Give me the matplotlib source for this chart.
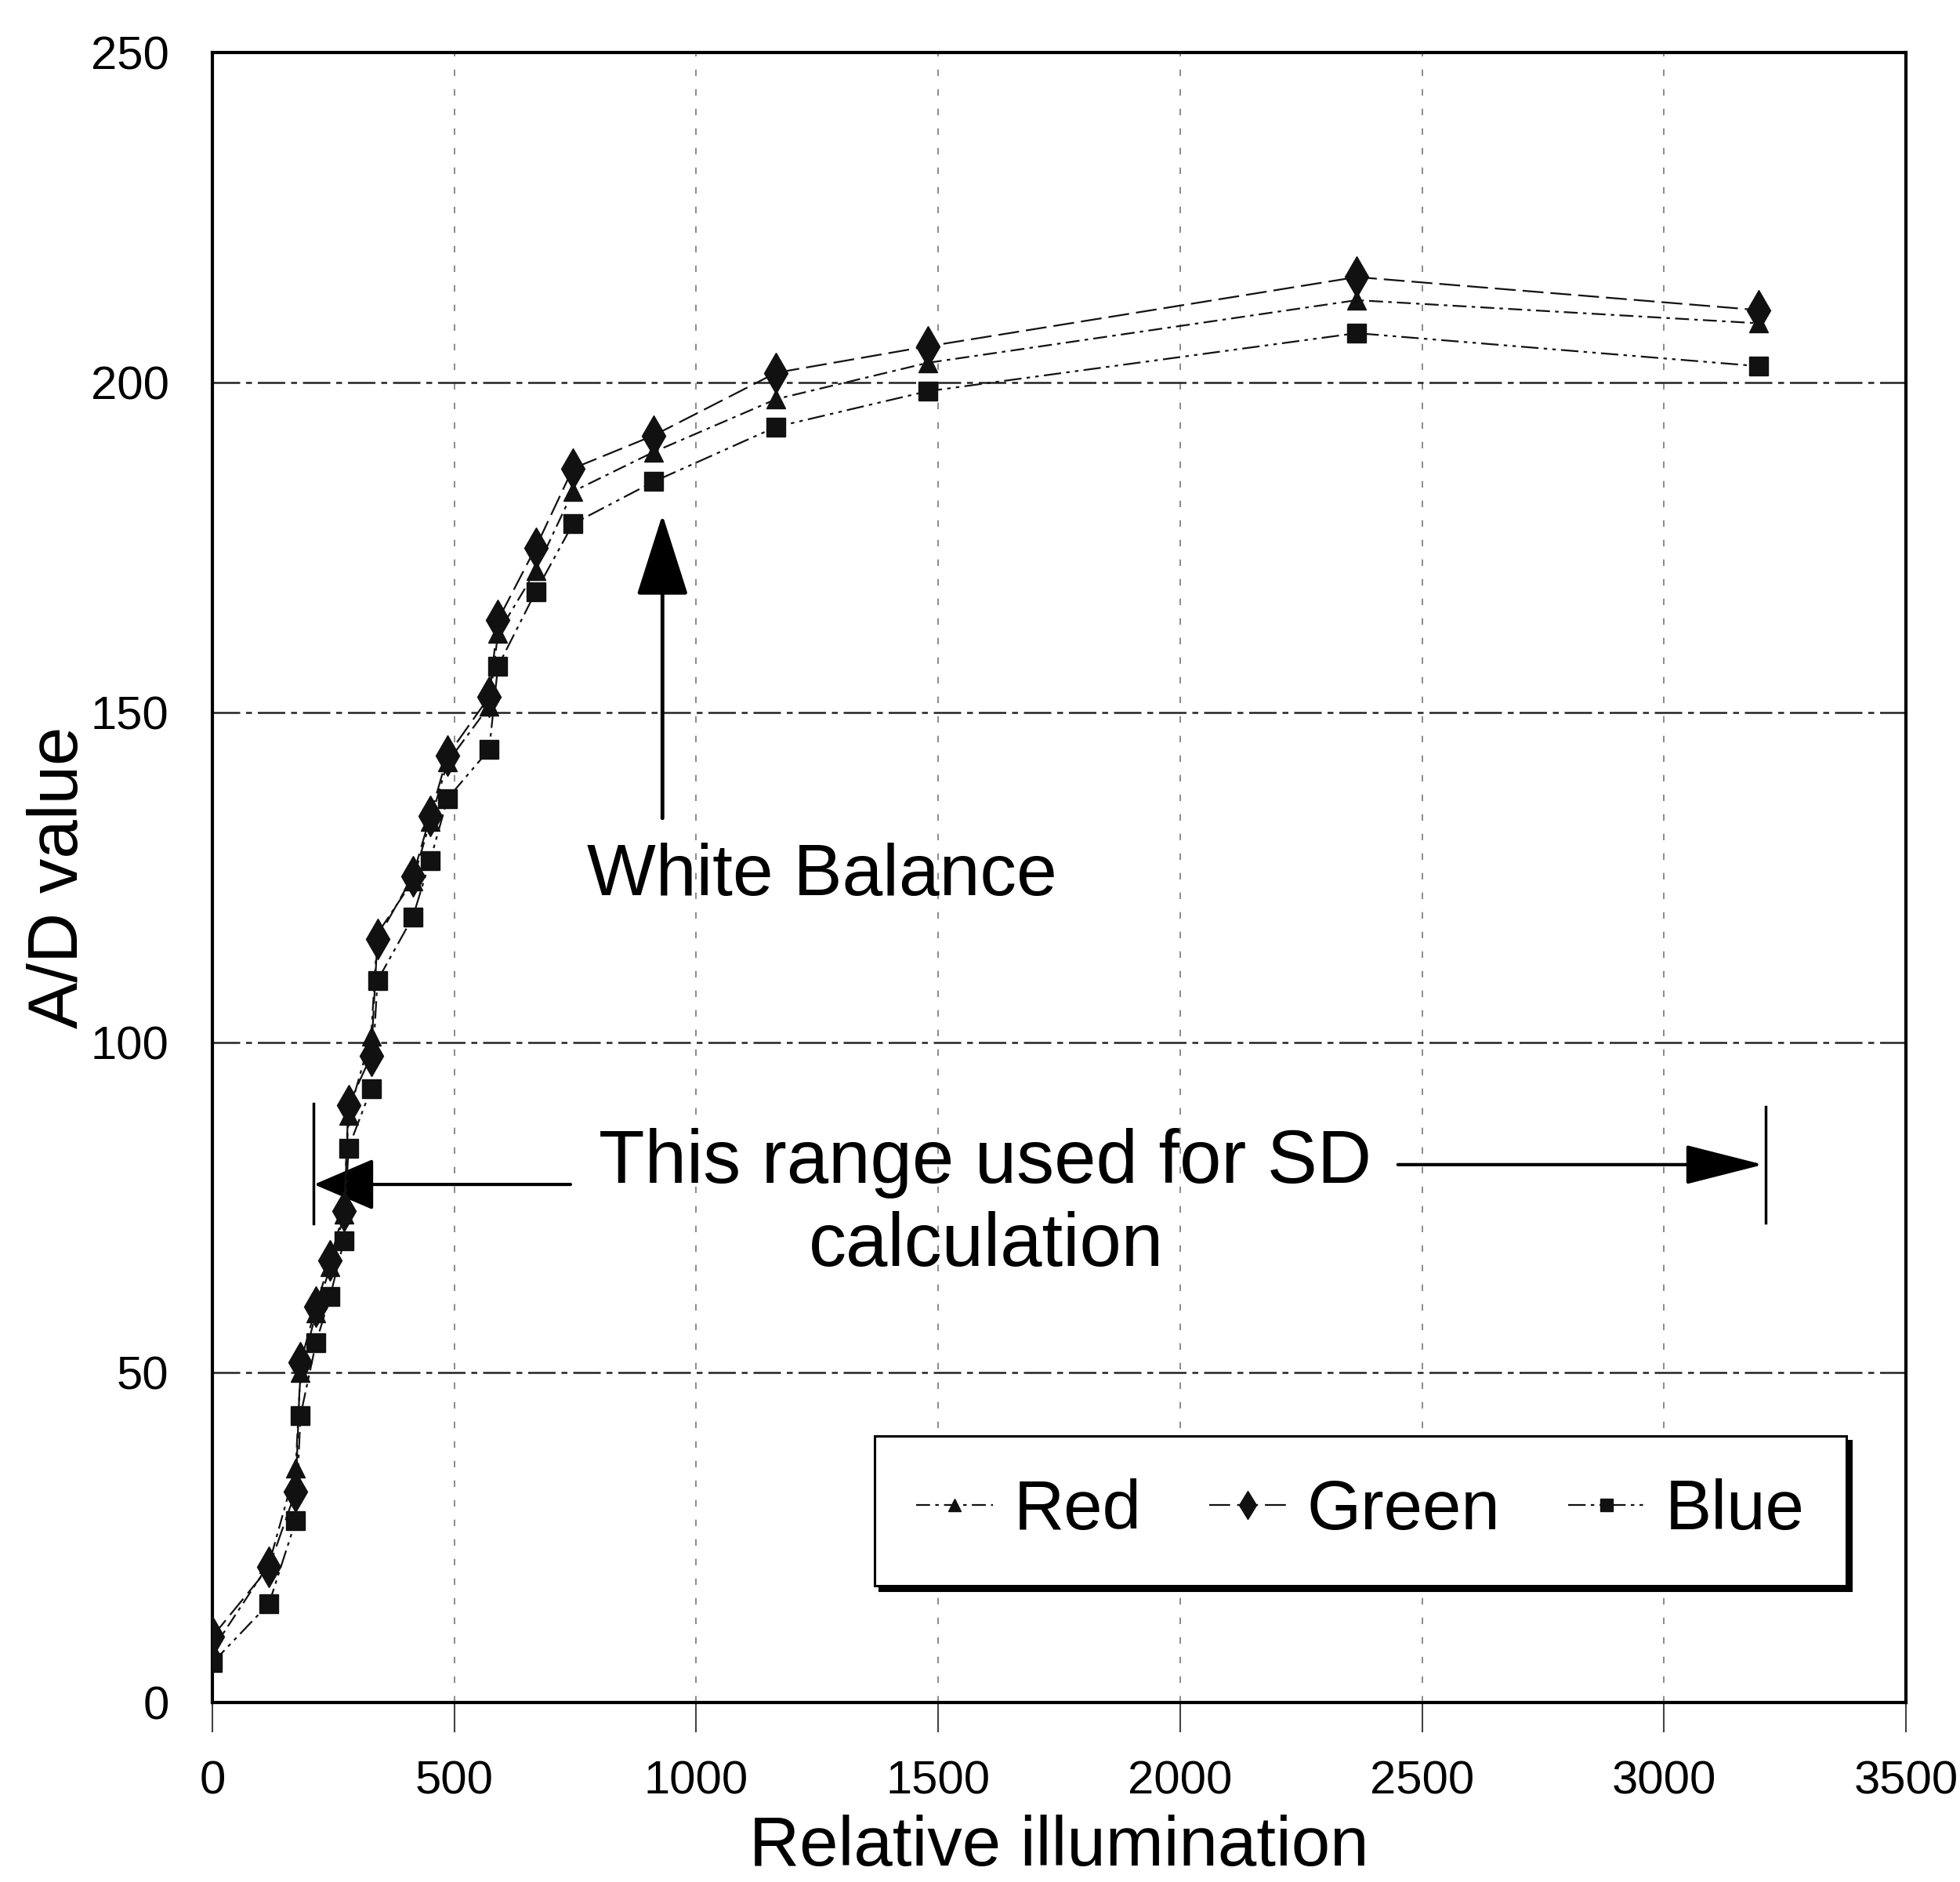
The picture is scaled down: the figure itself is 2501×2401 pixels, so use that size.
import matplotlib
matplotlib.use('Agg')
import matplotlib.pyplot as plt

# relative illumination and A/D readings for the three channels
illumination = [0, 117, 172, 182, 214, 243, 272, 281, 328, 341, 414, 450, 486,
                572, 590, 668, 745, 912, 1165, 1478, 2365, 3195]
red = [8, 21, 35.5, 50, 59, 66, 74, 89, 101, 116.5, 124.5, 133.5, 142.5,
       151, 162, 171.5, 183.5, 189.5, 197.5, 203, 212.5, 209]
green = [10, 20.5, 32, 51.5, 60, 67, 74.5, 90.5, 98, 115.7, 125.2, 134.3, 143.5,
         152.4, 164, 175, 187, 192, 201.5, 205.5, 216, 211]
blue = [6, 15, 27.5, 43.5, 54.5, 61.5, 70, 84, 93, 109.4, 119, 127.6, 137,
        144.4, 157, 168.3, 178.6, 185, 193.3, 198.7, 207.5, 202.5]

x_ticks = [0, 500, 1000, 1500, 2000, 2500, 3000, 3500]
y_ticks = [0, 50, 100, 150, 200, 250]

plt.rcParams['font.family'] = ['Liberation Sans', 'DejaVu Sans']

fig = plt.figure(figsize=(25.01, 24.01), dpi=100)
ax = fig.add_axes([0.1084, 0.0954, 0.864, 0.8766])

ink = '#111111'
ax.plot(illumination, red, color=ink, lw=1.6, linestyle=(0, (8, 3, 2, 3)),
        marker='^', ms=17, label='Red', zorder=3)
ax.plot(illumination, green, color=ink, lw=1.6, linestyle=(0, (12, 4)),
        marker='d', ms=26, label='Green', zorder=4)
ax.plot(illumination, blue, color=ink, lw=1.6, linestyle=(0, (10, 3, 2, 3, 2, 3)),
        marker='s', ms=17, label='Blue', zorder=5)

ax.set_xlim(0, 3500)
ax.set_ylim(0, 250)
ax.set_xticks(x_ticks)
ax.set_yticks(y_ticks)

ax.yaxis.grid(True, color='#222222', linestyle=(0, (14, 3, 3, 3)), lw=1.8)
ax.xaxis.grid(True, color='#777777', linestyle=(0, (5, 10)), lw=1.2)
ax.set_axisbelow(True)

for s in ax.spines.values():
    s.set_linewidth(3)
    s.set_color('black')

ax.tick_params(axis='x', direction='out', length=27, width=1.5, pad=26,
               labelsize=43, color='#444444')
ax.tick_params(axis='y', length=0, pad=40, labelsize=43)

ax.set_xlabel('Relative illumination', fontsize=64)
ax.set_ylabel('A/D value', fontsize=64)
ax.xaxis.set_label_coords(0.5, -0.068)
ax.yaxis.set_label_coords(-0.071, 0.5)

# white balance marker
ax.annotate('', xy=(930, 180), xytext=(930, 134),
            arrowprops=dict(arrowstyle='-|>,head_length=66,head_width=21',
                            mutation_scale=1, lw=3.5, color='black',
                            shrinkA=0, shrinkB=0))
ax.text(1260, 122.3, 'White Balance', fontsize=67, ha='center', va='baseline')

# range used for SD
ax.annotate('', xy=(210, 78.5), xytext=(740, 78.5),
            arrowprops=dict(arrowstyle='-|>,head_length=49,head_width=21',
                            mutation_scale=1, lw=3, color='black',
                            shrinkA=0, shrinkB=0))
ax.annotate('', xy=(3205, 81.5), xytext=(2450, 81.5),
            arrowprops=dict(arrowstyle='-|>,head_length=63,head_width=16',
                            mutation_scale=1, lw=3, color='black',
                            shrinkA=0, shrinkB=0))
ax.plot([208, 208], [72.6, 90.8], color='black', lw=2.5)
ax.plot([3210, 3210], [72.7, 90.3], color='black', lw=2.5)
ax.text(1597, 78.8, 'This range used for SD', fontsize=69, ha='center', va='baseline')
ax.text(1599, 66.1, 'calculation', fontsize=69, ha='center', va='baseline')

leg = ax.legend(ncol=3, loc='center', bbox_to_anchor=(0.391, 0.066, 0.574, 0.100),
                mode='expand', fontsize=64, handlelength=1.1, handletextpad=0.3,
                columnspacing=0.8, borderpad=0.6, borderaxespad=0, frameon=True,
                fancybox=False, edgecolor='black', framealpha=1, markerscale=0.7,
                shadow={'color': 'black', 'ox': 4, 'oy': -4, 'alpha': 1})
leg.get_frame().set_linewidth(2.2)

fig.savefig('out.png', dpi=100, facecolor='white')
